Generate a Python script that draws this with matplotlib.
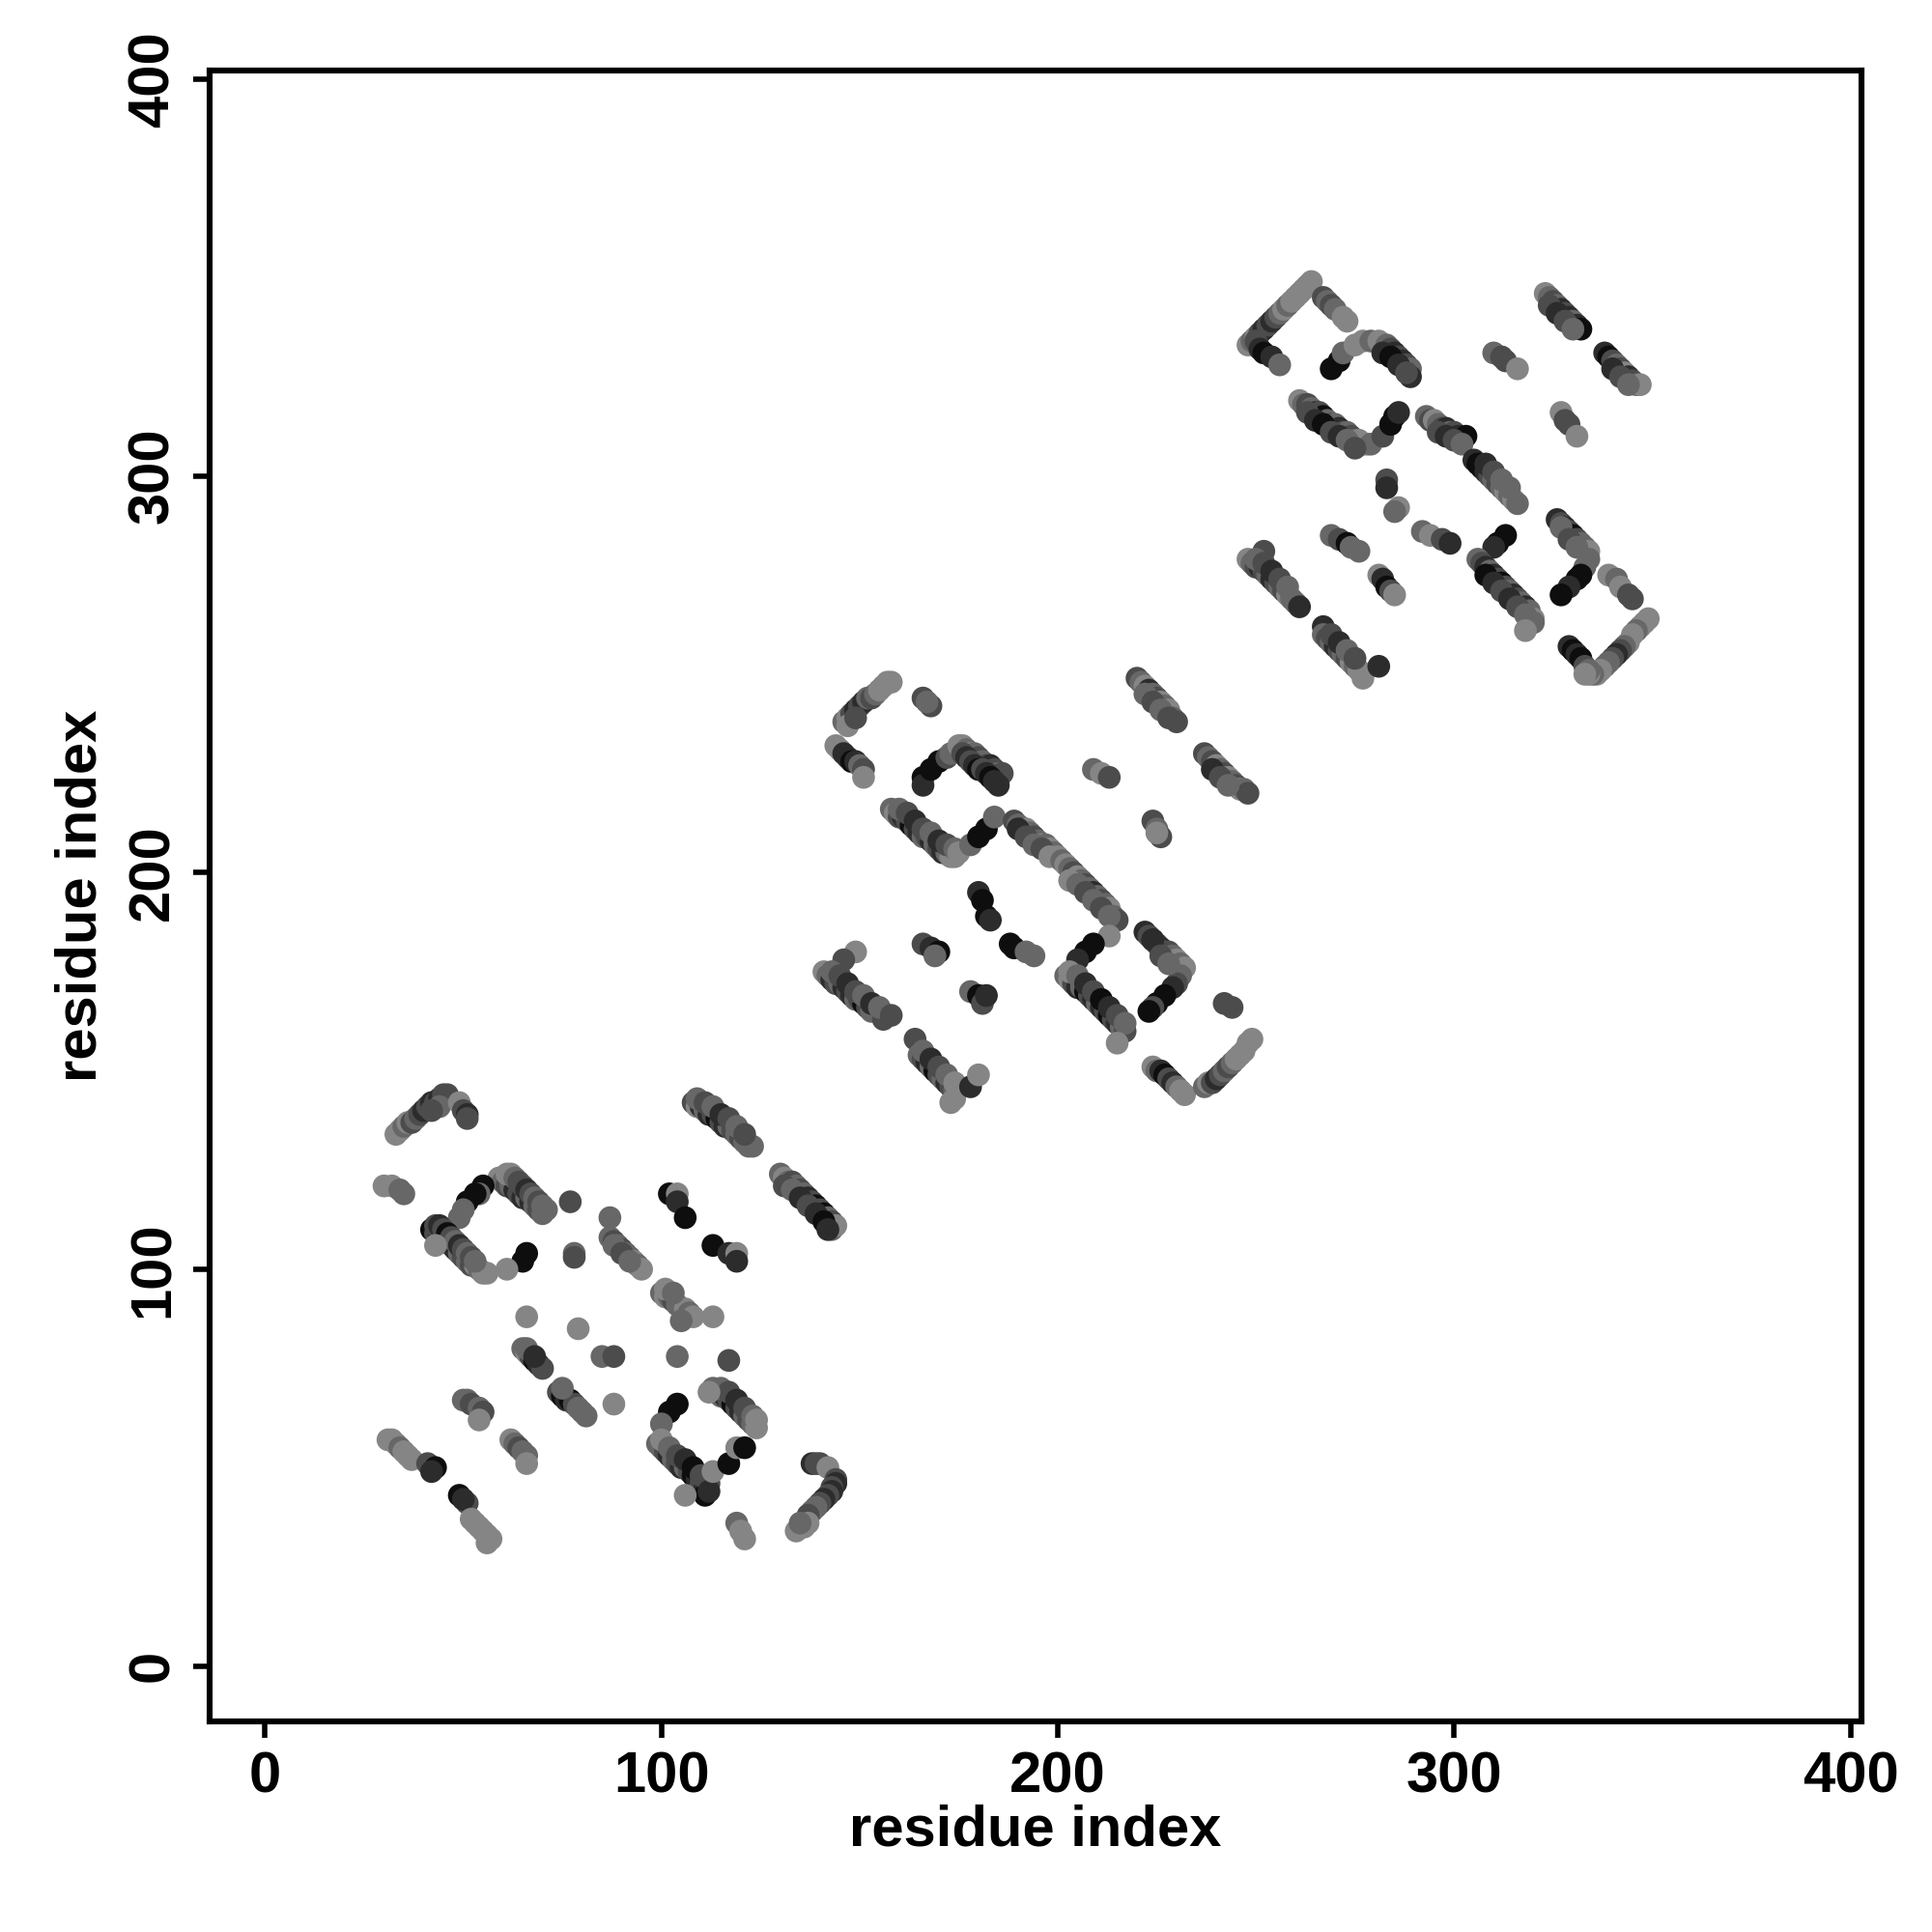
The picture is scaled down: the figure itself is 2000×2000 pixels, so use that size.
import numpy as np
import matplotlib
matplotlib.use("Agg")
import matplotlib.pyplot as plt

# contacts: (residue i, residue j, shade level 0=black .. 4=light grey)
cluster1 = [
    # top-left arc
    (33,134,4),(34,135,4),(35,136,3),(36,137,4),(37,137,2),(38,138,3),(39,139,2),(40,140,1),(41,141,2),
    (42,142,1),(43,142,2),(44,143,1),(45,144,2),(46,144,2),(44,141,3),(42,140,2),(49,142,4),(50,140,2),
    (51,139,1),(51,138,2),
    (30,121,4),(32,121,4),(34,120,3),(35,119,3),
    # C shape
    (59,123,4),(60,122,3),(61,121,2),(62,121,3),(63,120,1),(64,119,2),(65,118,1),(66,118,3),(67,117,1),
    (68,116,3),(69,115,2),(70,114,3),(61,124,4),(62,124,4),(63,123,3),(64,122,2),(65,121,2),(66,120,1),
    (67,119,2),(68,118,3),(69,117,2),(70,116,3),(71,115,3),
    (55,121,0),(54,119,3),(53,119,0),(51,117,0),(50,115,3),(49,113,3),
    (42,110,0),(43,109,2),(44,108,1),(45,108,3),(46,107,1),(47,106,2),(48,105,1),(49,104,3),(50,103,2),
    (51,102,3),(52,101,2),(53,101,4),(54,100,3),(55,99,4),(56,99,4),(43,111,2),(44,111,1),(45,110,2),
    (46,109,0),(47,108,2),(48,107,3),(49,106,1),(50,105,2),(51,104,3),(52,103,2),(53,102,3),(43,106,4),
    (66,104,0),(65,102,0),(61,100,4),
    (77,117,2),(78,104,3),(78,103,2),(87,113,3),
    (87,108,3),(88,107,2),(89,106,3),(90,105,2),(91,104,3),(92,103,3),(93,102,4),(94,101,3),(95,100,4),
    (88,106,3),(90,104,2),(92,102,3),
    # lines near i~110-144
    (108,142,2),(109,141,4),(110,141,1),(111,140,3),(112,139,1),(113,139,2),(114,138,0),(115,137,2),
    (116,136,1),(117,136,3),(118,135,2),(119,134,3),(120,133,2),(121,132,3),(122,131,3),(123,131,3),
    (109,143,3),(111,142,2),(113,141,3),(115,139,1),(117,138,2),(119,136,3),(121,134,2),
    (130,124,3),(131,123,4),(132,122,3),(133,122,2),(134,121,3),(135,120,2),(136,119,3),(137,118,1),
    (138,117,2),(139,116,0),(140,115,2),(141,114,0),(142,113,3),(143,112,2),(143,110,3),(144,111,4),
    (131,121,2),(133,120,3),(135,118,1),(137,116,2),(139,114,1),(141,112,0),(142,110,1),
    (102,119,0),(104,119,4),(104,117,1),(106,113,0),(113,106,0),(117,104,1),(119,104,4),(119,102,1),
    (100,94,3),(101,93,4),(102,93,3),(103,92,2),(104,91,3),(105,90,3),(106,90,4),(107,89,3),(108,88,4),
    (101,95,4),(103,94,3),(113,88,4),(105,87,3),
    # lower part
    (65,80,3),(66,79,4),(67,78,2),(68,77,0),(69,76,1),(70,75,2),(66,80,3),(68,78,1),
    (74,69,2),(75,68,0),(76,67,1),(77,67,0),(78,66,2),(79,65,3),(80,64,3),(81,63,3),(75,70,3),
    (50,67,3),(51,67,3),(52,66,2),(54,65,3),(55,64,2),(54,62,4),
    (31,57,4),(32,57,4),(33,56,4),(34,55,3),(35,54,4),(36,53,4),(37,52,4),
    (41,51,2),(43,50,0),(42,49,1),(49,43,0),(51,41,2),(50,42,1),
    (52,37,4),(53,36,4),(54,35,4),(55,34,4),(56,33,4),(57,32,4),(56,31,4),
    (62,57,4),(63,56,3),(64,55,2),(65,54,3),(66,53,3),(66,51,4),
    (66,88,4),(79,85,4),(85,78,3),(88,78,2),(88,66,4),(104,78,3),(117,77,2),
    (113,70,3),(114,69,2),(115,68,3),(116,68,1),(117,67,2),(118,66,0),(119,65,2),(120,64,1),(121,63,3),
    (122,62,2),(123,61,3),(124,60,4),(115,70,3),(117,69,2),(119,67,1),(121,65,2),(123,63,3),(124,62,4),
    (112,69,4),
    (104,66,0),(102,64,0),(100,61,3),
    (99,56,3),(100,55,3),(101,54,2),(102,53,1),(103,52,3),(104,51,2),(105,50,1),(106,50,3),(107,49,2),
    (108,48,0),(109,47,1),(110,46,2),(111,45,1),(111,43,0),(100,57,4),(102,55,3),(104,53,2),(106,52,1),
    (108,50,0),(110,48,2),(112,46,2),(112,44,1),
    (113,49,4),(117,51,0),(119,55,4),(121,55,0),(106,43,4),(119,36,3),(120,34,4),(121,32,4),
    (138,51,1),(139,51,2),(140,51,2),(142,50,4),(144,47,2),(144,46,1),(143,45,2),(143,44,1),(142,43,2),
    (141,42,1),(140,41,2),(139,40,3),(138,39,3),(137,38,2),(137,36,4),(136,35,4),(134,34,4),(135,36,3),
]

cluster2 = [
    (146,238,3),(147,239,4),(148,240,2),(149,241,1),(150,242,2),(151,243,1),(152,244,3),(153,244,2),
    (154,245,3),(155,246,4),(156,247,4),(157,248,4),(158,248,4),(147,237,4),(149,239,2),
    (166,244,2),(168,242,2),(167,243,3),
    (144,232,4),(145,231,4),(146,230,1),(147,229,1),(148,228,0),(149,228,1),(150,227,3),(151,226,2),(151,224,4),
    (166,224,0),(166,222,1),(168,226,0),(170,228,0),(172,229,2),(173,230,3),
    (175,232,4),(176,232,4),(177,231,3),(178,230,4),(179,230,3),(180,229,2),(181,228,3),(182,227,2),
    (183,227,1),(184,226,2),(185,225,3),(186,225,2),(176,230,2),(177,229,1),(178,228,2),(179,227,1),
    (180,226,0),(181,226,2),(182,225,1),(183,224,0),(184,223,1),(185,222,1),
    (158,216,3),(159,215,4),(160,214,2),(161,214,1),(162,213,2),(163,212,0),(164,211,2),(165,210,1),
    (166,209,3),(167,209,2),(168,208,1),(169,207,3),(170,206,2),(171,205,1),(172,205,3),(173,204,4),
    (174,204,4),(160,216,3),(162,215,2),(164,213,1),(166,211,2),(168,210,3),(170,208,1),(172,207,2),
    (174,206,3),(175,205,4),
    (178,207,3),(180,209,0),(182,211,0),(184,214,3),
    (189,213,2),(190,212,3),(191,211,2),(192,211,4),(193,210,3),(194,209,2),(195,208,3),(196,207,4),
    (197,207,3),(198,206,4),(199,205,3),(190,211,1),(192,209,2),(194,207,3),(196,206,2),(198,204,4),
    (180,195,1),(181,193,0),(182,189,0),(183,188,1),
    (220,249,2),(221,248,3),(222,247,4),(223,246,1),(224,245,3),(225,244,2),(226,243,4),(227,242,3),
    (228,241,4),(229,239,3),(230,238,2),(222,245,3),(224,243,2),(226,241,3),(228,239,2),
    (237,230,2),(238,229,3),(239,228,2),(240,227,4),(241,226,3),(242,225,2),(243,224,4),(244,223,3),
    (245,222,2),(246,221,4),(247,221,3),(248,220,2),(239,226,1),(241,224,2),(243,222,3),
    (209,226,3),(211,225,4),(213,224,2),
    (224,213,2),(225,211,3),(226,209,2),(225,210,4),
    (200,204,4),(201,203,3),(202,202,4),(203,201,3),(204,200,2),(205,199,4),(206,198,3),(207,197,2),
    (208,196,3),(209,195,1),(210,194,3),(211,193,2),(212,192,3),(213,191,4),(214,189,3),(215,188,2),
    (203,198,4),(205,197,3),(207,195,2),(209,193,3),(211,191,2),(213,189,3),
    (213,184,4),(209,182,0),(207,180,0),(205,178,1),
    (202,174,3),(203,173,4),(204,172,2),(205,171,1),(206,171,3),(207,170,0),(208,169,2),(209,168,1),
    (210,167,3),(211,166,1),(212,165,2),(213,164,0),(214,163,2),(215,162,1),(216,161,3),(217,160,2),
    (203,175,4),(205,174,3),(207,172,1),(209,170,2),(211,168,0),(213,166,1),(215,164,2),(217,162,3),
    (215,157,4),
    (222,185,1),(223,184,2),(224,183,0),(225,182,2),(226,181,1),(227,180,3),(228,180,2),(229,179,3),
    (230,178,4),(231,177,3),(232,176,4),(231,174,3),(230,172,2),(229,171,1),(227,169,0),(225,167,0),
    (224,166,2),(223,165,0),(224,183,1),(226,179,2),(228,177,3),
    (242,167,2),(244,166,2),
    (224,151,4),(225,150,3),(226,150,1),(227,149,0),(228,148,2),(229,147,1),(230,146,3),(231,145,4),(232,144,4),
    (237,146,3),(238,147,4),(239,147,2),(240,148,1),(241,149,2),(242,150,3),(243,151,2),(244,152,3),
    (245,153,4),(246,154,4),(247,155,4),(248,157,4),(249,158,4),
    (166,182,2),(168,181,1),(170,180,0),(169,179,3),
    (188,182,0),(189,181,0),(192,180,3),(194,179,3),
    (178,170,3),(180,169,0),(181,167,2),(182,169,1),
    (149,180,4),(146,178,2),(141,175,4),(142,174,3),(143,173,1),(144,172,2),(145,172,3),(146,171,1),
    (147,170,2),(148,169,1),(149,168,3),(150,168,2),(151,167,0),(152,166,2),(153,165,3),(154,165,3),
    (156,163,2),(143,175,3),(145,174,2),(147,172,1),(149,170,2),(151,169,3),(153,167,1),(155,166,3),
    (158,164,2),
    (164,158,2),(165,154,3),(166,153,2),(167,152,1),(168,151,3),(169,150,0),(170,149,2),(171,148,3),
    (172,147,1),(173,146,2),(174,145,3),(174,143,4),(173,142,4),(166,155,3),(168,153,1),(170,151,2),
    (172,149,3),(174,147,4),
    (178,146,1),(180,149,4),
]

cluster3 = [
    (248,333,4),(249,334,3),(250,335,4),(251,336,2),(252,337,1),(253,338,2),(254,339,1),(255,340,2),
    (256,341,3),(257,342,4),(258,343,3),(259,344,4),(260,345,4),(261,346,4),(262,347,4),(263,348,4),
    (264,349,4),(267,345,2),(268,344,3),(269,343,2),(270,342,3),(272,340,4),(273,339,4),
    (250,334,2),(251,332,1),(252,331,0),(254,330,1),(256,328,3),
    (269,327,0),(271,329,0),(272,331,3),(275,333,4),(277,334,4),(279,334,3),(281,334,4),(283,333,3),
    (284,332,2),(285,331,1),(286,330,2),(287,329,1),(288,328,2),(289,327,3),(289,325,1),(282,331,1),
    (284,330,0),(286,328,1),(288,326,2),
    (261,319,4),(262,318,3),(263,318,2),(264,317,3),(265,316,1),(266,316,2),(267,315,0),(268,314,3),
    (269,313,2),(270,313,3),(271,312,1),(272,311,2),(273,311,3),(274,310,2),(275,309,3),(276,309,4),
    (277,308,4),(278,308,4),(279,308,3),(263,316,2),(265,314,1),(267,313,0),(269,311,2),(271,310,1),
    (273,309,3),(275,307,2),
    (282,310,2),(284,313,0),(285,315,0),(286,316,1),
    (293,315,3),(294,314,2),(295,314,4),(296,313,3),(297,312,2),(298,312,1),(299,311,3),(300,311,2),
    (301,310,1),(302,309,0),(303,310,0),(296,311,2),(298,310,1),(300,309,2),(302,308,3),
    (305,304,1),(306,303,0),(307,302,0),(308,301,1),(309,300,2),(310,299,3),(311,298,2),(312,297,3),
    (313,296,4),(314,295,3),(315,294,4),(316,293,3),(308,303,1),(310,301,2),(312,299,3),(314,297,3),
    (283,299,2),(283,297,1),(286,292,4),(285,291,3),
    (323,346,4),(324,345,3),(325,344,2),(326,343,3),(327,342,1),(328,341,2),(329,340,1),(330,339,3),
    (331,338,1),(332,337,0),(324,343,2),(326,341,1),(328,339,2),(330,337,3),
    (338,331,1),(339,330,0),(340,329,2),(341,328,3),(342,327,2),(343,326,4),(344,325,1),(345,324,2),
    (346,323,3),(347,323,4),(340,327,1),(342,325,2),(344,323,3),
    (310,331,3),(312,330,2),(313,329,2),(316,327,4),
    (327,316,4),(328,314,2),(329,313,2),(331,310,4),
    (269,285,3),(271,284,2),(273,283,0),(274,282,3),(276,281,3),
    (292,286,3),(294,285,4),(297,284,2),(299,283,1),
    (281,275,4),(282,274,1),(283,272,0),(284,271,2),(285,270,4),
    (252,281,2),(248,279,4),(249,278,3),(250,277,2),(251,277,1),(252,276,2),(253,275,3),(254,274,1),
    (255,273,2),(256,272,3),(257,271,2),(258,270,4),(259,269,3),(260,268,3),(261,267,1),(250,279,3),
    (252,278,2),(254,276,1),(256,274,2),(258,272,3),
    (267,262,1),(267,260,3),(268,259,2),(269,258,3),(270,257,1),(271,256,2),(272,255,3),(273,254,2),
    (274,253,4),(275,252,3),(276,251,4),(277,249,4),(269,260,2),(271,258,1),(273,256,3),(275,254,2),
    (281,252,1),
    (313,285,0),(311,283,0),(310,282,1),
    (306,279,3),(307,278,2),(308,277,1),(309,276,3),(310,275,1),(311,274,2),(312,273,0),(313,272,2),
    (314,271,3),(315,270,1),(316,269,2),(317,268,3),(318,267,1),(319,266,3),(320,264,4),(320,263,3),
    (308,275,0),(310,273,1),(312,271,2),(314,269,1),(316,267,2),(318,265,3),
    (318,261,4),
    (326,289,1),(327,288,2),(328,287,1),(329,286,2),(330,285,0),(331,284,2),(332,283,3),(333,282,3),
    (334,281,4),(334,279,3),(333,277,3),(332,275,0),(331,274,0),(329,272,1),(327,270,0),(327,287,3),
    (329,284,2),(331,282,3),
    (339,275,4),(341,274,3),(342,272,4),(344,270,2),(345,269,2),
    (349,264,4),(348,263,4),(347,262,4),(346,261,3),(345,260,4),(344,258,4),(343,257,3),(342,256,2),
    (341,255,1),(340,254,2),(339,253,3),(338,252,3),(337,251,4),(336,250,4),(335,250,3),(334,250,4),
    (329,257,1),(330,256,0),(331,255,1),(332,254,0),(333,252,2),(334,251,3),(333,250,4),
]

shade_colors = ['#0e0e0e', '#2c2c2c', '#4c4c4c', '#676767', '#858585']
x_ticks = [0, 100, 200, 300, 400]
y_ticks = [0, 100, 200, 300, 400]
x_label = "residue index"
y_label = "residue index"

fig = plt.figure(figsize=(10, 10), dpi=200)
ax = fig.add_axes([0.1085, 0.109, 0.855, 0.8545])

for cl in (cluster1, cluster2, cluster3):
    arr = np.array(cl)
    cols = [shade_colors[int(g)] for g in arr[:, 2]]
    ax.scatter(arr[:, 0], arr[:, 1], s=72, c=cols, edgecolors='none', zorder=3)

ax.set_xlim(-14, 402.8)
ax.set_ylim(-14, 402.2)
font = dict(family=['Liberation Sans', 'DejaVu Sans'], weight='bold', size=21.5)
ax.set_xticks(x_ticks)
ax.set_yticks(y_ticks)
ax.set_xticklabels([str(t) for t in x_ticks], fontdict=font)
ax.set_yticklabels([str(t) for t in y_ticks], fontdict=font, rotation=90, va='center')
ax.tick_params(axis='both', direction='out', length=6, width=2.0, pad=5, color='black')
for sp in ax.spines.values():
    sp.set_linewidth(2.2)
ax.set_xlabel(x_label, fontdict=font, labelpad=0)
ax.set_ylabel(y_label, fontdict=font, labelpad=7)

fig.savefig("out.png", dpi=200, facecolor='white')
